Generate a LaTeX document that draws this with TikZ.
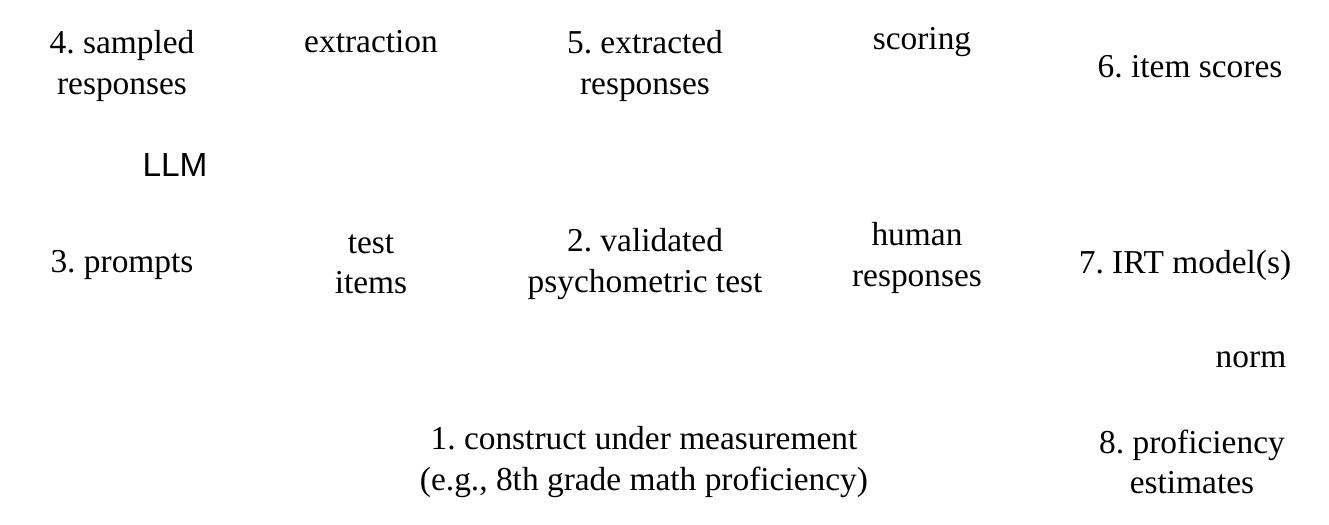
\documentclass[tikz,border=0pt]{standalone}
\usepackage{fontspec}
\setmainfont{Liberation Serif}
\setsansfont{Liberation Sans}
\usepackage{tikz}
\usetikzlibrary{positioning}
\frenchspacing
\tikzset{
  stage/.style={align=center, inner sep=1pt, font=\fontsize{9.5}{11.4}\selectfont},
  act/.style={stage},
  agent/.style={stage, font=\fontsize{9.5}{11.4}\selectfont\sffamily}
}

\begin{document}
\begin{tikzpicture}[x=0.01cm,y=-0.01cm]
  \useasboundingbox (0,0) rectangle (1329,525);
  % top row
  \node [stage] (sampled)   at (122,66)  {4. sampled\\responses};
  \node [act]   (extraction) at (371,42) {extraction};
  \node [stage] (extracted) at (645,66)  {5. extracted\\responses};
  \node [act]   (scoring)   at (922,42)  {scoring};
  \node [stage] (scores)    at (1190,67) {6. item scores};
  % middle
  \node [agent] (llm)       at (175,165) {LLM};
  \node [stage] (prompts)   at (122,265) {3. prompts};
  \node [act]   (items)     at (371,264) {test\\items};
  \node [stage] (test)      at (645,264) {2. validated\\psychometric test};
  \node [act]   (human)     at (917,258) {human\\responses};
  \node [stage] (irt)       at (1185,265) {7. IRT model(s)};
  \node [act]   (norm)      at (1251,360) {norm};
  % bottom row
  \node [stage] (construct) at (644,462) {1. construct under measurement\\(e.g., 8th grade math proficiency)};
  \node [stage] (estimates) at (1192,462) {8. proficiency\\estimates};
\end{tikzpicture}
\end{document}
